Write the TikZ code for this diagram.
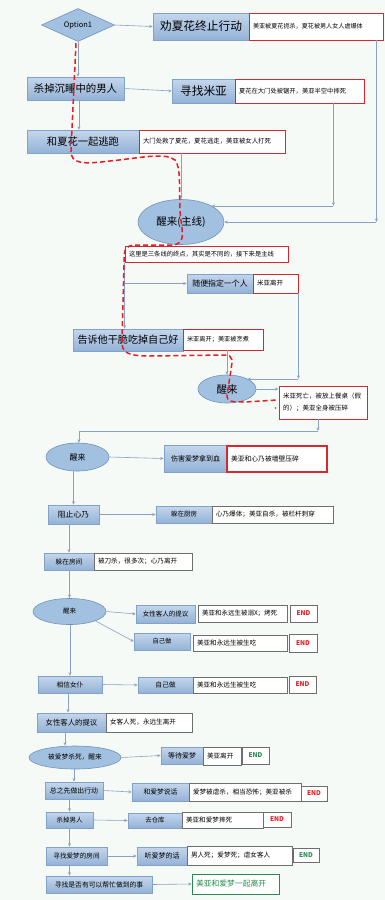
\documentclass[tikz,border=0pt]{standalone}
\usepackage{fontspec}
\setmainfont{Noto Sans CJK SC}
\usetikzlibrary{shapes.geometric,arrows.meta,calc}
\definecolor{bgc}{RGB}{246,250,246}
\definecolor{bxt}{RGB}{196,214,236}
\definecolor{bxb}{RGB}{148,178,214}
\definecolor{bxd}{RGB}{130,162,202}
\definecolor{elf}{RGB}{162,192,224}
\definecolor{eld}{RGB}{112,146,190}
\definecolor{ntg}{RGB}{110,110,110}
\definecolor{ntr}{RGB}{214,40,46}
\definecolor{cn}{RGB}{138,162,192}
\definecolor{rd}{RGB}{232,30,38}
\definecolor{gn}{RGB}{40,140,80}
\tikzset{
 bx/.style={draw=bxd, line width=0.6pt, top color=bxt, bottom color=bxb, inner sep=0pt, font=\fontsize{7}{8}\selectfont},
 nt/.style={draw=ntg, line width=0.6pt, fill=white, inner xsep=4pt, inner ysep=0pt, align=left, font=\fontsize{6.6}{7.6}\selectfont},
 ntr/.style={nt, draw=ntr, line width=0.9pt},
 el/.style={ellipse, draw=eld, line width=0.6pt, fill=elf, inner sep=0pt},
 conn/.style={draw=cn, line width=0.6pt, -{Stealth[length=3.5pt,width=3pt]}},
 endbox/.style={draw=ntg, line width=0.6pt, fill=white, inner sep=0pt, font=\fontsize{6.5}{7.5}\selectfont\bfseries},
 reddash/.style={draw=rd, line width=1.5pt, dash pattern=on 5pt off 3pt},
}
\begin{document}
\begin{tikzpicture}[x=1pt,y=-1pt]
\fill[bgc] (0,0) rectangle (385,900);
\useasboundingbox (0,0) rectangle (385,900);

% top part
\node[diamond, draw=eld, line width=0.6pt, fill=elf, aspect=2.2, minimum width=73pt, minimum height=33pt, inner sep=0pt, font=\fontsize{7.5}{8.5}\selectfont] (d1) at (78,25) {Option1};
\node[bx, minimum width=96pt, minimum height=27pt, font=\fontsize{11.7}{13}\selectfont] (b1) at (201,26.5) {劝夏花终止行动};
\node[ntr, text width=126pt, minimum height=27pt, font=\fontsize{6.1}{7}\selectfont] (n1) at (316,26.5) {美亚被夏花扼杀，夏花被男人女人虐爆体};

\node[bx, minimum width=97pt, minimum height=23pt, font=\fontsize{10.4}{12}\selectfont] (b2) at (75.5,88.5) {杀掉沉睡中的男人};
\node[bx, minimum width=63pt, minimum height=24pt, font=\fontsize{11.7}{13}\selectfont] (b3) at (203.5,91) {寻找米亚};
\node[ntr, text width=121pt, minimum height=24pt, font=\fontsize{6.3}{7}\selectfont] (n3) at (299.5,91) {夏花在大门处被锯开，美亚半空中摔死};

\node[bx, minimum width=112pt, minimum height=23pt, font=\fontsize{10.3}{12}\selectfont] (b4) at (83,141.5) {和夏花一起逃跑};
\node[ntr, text width=138pt, minimum height=23pt, font=\fontsize{6.4}{7}\selectfont] (n4) at (212,141.5) {大门处救了夏花，夏花逃走，美亚被女人打死};

\node[el, minimum width=86pt, minimum height=45pt, font=\fontsize{10.5}{12}\selectfont] (e1) at (181,222) {醒来(主线)};
\node[ntr, text width=155pt, minimum height=16pt, font=\fontsize{6.3}{7}\selectfont] (n5) at (206.5,254.5) {这里是三条线的终点，其实是不同的，接下来是主线};

\node[bx, minimum width=66pt, minimum height=19pt, font=\fontsize{7.9}{9}\selectfont] (b6) at (220,283.5) {随便指定一个人};
\node[ntr, text width=37pt, minimum height=19pt, font=\fontsize{6.5}{7.5}\selectfont] (n6) at (275.5,283.5) {米亚离开};

\node[bx, minimum width=110pt, minimum height=22pt, font=\fontsize{10.1}{12}\selectfont] (b7) at (128,340) {告诉他干脆吃掉自己好};
\node[ntr, text width=72pt, minimum height=21pt, font=\fontsize{6.2}{7}\selectfont] (n7) at (223,339.5) {米亚离开；美亚被烹煮};

\node[el, minimum width=58pt, minimum height=28pt, font=\fontsize{10.5}{12}\selectfont] (e2) at (227,389) {醒来};
\node[ntr, text width=80pt, minimum height=33pt, font=\fontsize{6.5}{12}\selectfont] (n8) at (323,402.5) {米亚死亡，被放上餐桌（假\\的）；美亚全身被压碎};

\node[el, minimum width=63pt, minimum height=28pt, font=\fontsize{8}{9}\selectfont] (e3) at (77.5,457) {醒来};
\node[bx, minimum width=63pt, minimum height=27pt, font=\fontsize{7}{8}\selectfont] (b9) at (195.5,458.5) {伤害爱梦拿到血};
\node[ntr, line width=1.2pt, text width=92pt, minimum height=26pt, font=\fontsize{6.8}{8}\selectfont] (n9) at (277,459) {美亚和心乃被墙壁压碎};

% lower part
\node[bx, minimum width=51pt, minimum height=19pt, font=\fontsize{7.8}{9}\selectfont] (b10) at (73.5,514.5) {阻止心乃};
\node[bx, minimum width=56pt, minimum height=17pt, font=\fontsize{6.5}{7.5}\selectfont] (b11) at (184,514.5) {躲在厨房};
\node[nt, text width=113pt, minimum height=17pt] (n11) at (272.5,514.5) {心乃爆体；美亚自杀，被栏杆刺穿};

\node[bx, minimum width=50pt, minimum height=17pt, font=\fontsize{6.7}{7.5}\selectfont] (b12) at (69,561.5) {躲在房间};
\node[nt, text width=90pt, minimum height=17pt] (n12) at (143,561.5) {被刀杀，很多次；心乃离开};

\node[el, minimum width=73pt, minimum height=26pt, font=\fontsize{6.5}{7.5}\selectfont] (e4) at (69.5,611.5) {醒来};
\node[bx, minimum width=59pt, minimum height=18pt, font=\fontsize{6.5}{7.5}\selectfont] (b13) at (165.5,614) {女性客人的提议};
\node[nt, text width=81pt, minimum height=17pt, font=\fontsize{6.5}{7.5}\selectfont] (n13) at (242.5,613.5) {美亚和永远生被溺X；烤死};
\node[endbox, text=rd, minimum width=27pt, minimum height=17pt] (x13) at (303.5,613.5) {END};

\node[bx, minimum width=56pt, minimum height=17pt, font=\fontsize{6.3}{7.5}\selectfont] (b14) at (162,641.5) {自己做};
\node[nt, text width=86pt, minimum height=16pt] (n14) at (240,643) {美亚和永远生被生吃};
\node[endbox, text=rd, minimum width=28pt, minimum height=18pt] (x14) at (303,643) {END};

\node[bx, minimum width=64pt, minimum height=17pt, font=\fontsize{6.7}{7.5}\selectfont] (b15) at (70,684.5) {相信女仆};
\node[bx, minimum width=55pt, minimum height=16pt, font=\fontsize{6.8}{7.5}\selectfont] (b16) at (165.5,685) {自己做};
\node[nt, text width=86pt, minimum height=16pt] (n16) at (240,685) {美亚和永远生被生吃};
\node[endbox, text=rd, minimum width=27pt, minimum height=17pt] (x16) at (302.5,684.5) {END};

\node[bx, minimum width=69pt, minimum height=19pt, font=\fontsize{7.4}{8.5}\selectfont] (b17) at (71.5,722.5) {女性客人的提议};
\node[nt, text width=78pt, minimum height=19pt] (n17) at (149,722.5) {女客人死，永远生离开};

\node[el, minimum width=92pt, minimum height=23pt, font=\fontsize{6.7}{7.5}\selectfont] (e5) at (75,757.5) {被爱梦杀死，醒来};
\node[bx, minimum width=42pt, minimum height=17pt, font=\fontsize{7}{8}\selectfont] (b18) at (182,755.5) {等待爱梦};
\node[nt, text width=30pt, minimum height=18pt] (n18) at (222,756) {美亚离开};
\node[endbox, text=gn, minimum width=27pt, minimum height=17pt] (x18) at (255.5,755.5) {END};

\node[bx, minimum width=58pt, minimum height=17pt, font=\fontsize{6.9}{8}\selectfont] (b19) at (74,790.5) {总之先做出行动};
\node[bx, minimum width=57pt, minimum height=18pt, font=\fontsize{6.8}{8}\selectfont] (b20) at (160.5,792) {和爱梦说话};
\node[nt, text width=104pt, minimum height=18pt] (n20) at (245,792) {爱梦被虐杀，相当恐怖；美亚被杀};
\node[endbox, text=rd, minimum width=26pt, minimum height=15pt] (x20) at (314,793.5) {END};

\node[bx, minimum width=47pt, minimum height=16pt, font=\fontsize{6.5}{7.5}\selectfont] (b21) at (69.5,820) {杀掉男人};
\node[bx, minimum width=54pt, minimum height=15pt, font=\fontsize{6.4}{7.5}\selectfont] (b22) at (155,820.5) {去仓库};
\node[nt, text width=73pt, minimum height=16pt] (n22) at (222.5,820) {美亚和爱梦摔死};
\node[endbox, text=rd, minimum width=28pt, minimum height=15pt] (x22) at (277,819.5) {END};

\node[bx, minimum width=61pt, minimum height=18pt, font=\fontsize{6.6}{7.5}\selectfont] (b23) at (76.5,856) {寻找爱梦的房间};
\node[bx, minimum width=50pt, minimum height=18pt, font=\fontsize{7}{8}\selectfont] (b24) at (162,856) {听爱梦的话};
\node[nt, text width=97pt, minimum height=19pt] (n24) at (239.5,855.5) {男人死；爱梦死；虐女客人};
\node[endbox, text=gn, minimum width=26pt, minimum height=14pt] (x24) at (306,855) {END};

\node[bx, minimum width=106pt, minimum height=17pt, font=\fontsize{6.8}{8}\selectfont] (b25) at (99,884.5) {寻找是否有可以帮忙做到的事};
\node[nt, draw=gn, text=gn, text width=79pt, minimum height=20pt, font=\fontsize{7.8}{9}\selectfont] (g25) at (235.5,884) {美亚和爱梦一起离开};

% connectors
\draw[conn] (d1.east) -- (b1.west);
\draw[conn] (d1.south) -- (d1.south |- b2.north);
\draw[conn] (b2.east) -- (b3.west);
\draw[conn] ($(b2.south)+(3.5,0)$) -- ($(b4.north)+(-4,0)$);
\coordinate (c1) at ($(n1.south east)+(-7,0)$);
\coordinate (c1b) at (c1 |- e1.east);
\draw[conn] (c1) -- (c1b);
\draw[conn] (c1b) -- (e1.east);
\coordinate (c2) at ($(n3.south east)+(-31,0)$);
\coordinate (c2b) at (c2 |- e1.north east);
\draw[conn] (c2) -- (c2b);
\draw[conn] (c2b) -- (e1.north east);
\draw[conn] (n4.south -| e1.north) -- (e1.north);
\draw[conn] (n5.south west) -- (n5.south west |- b7.north);
\draw[conn] (n5.south west |- b6.west) -- (b6.west);
\coordinate (c3b) at (n6.south east |- e2.north east);
\draw[conn] (n6.south east) -- (c3b);
\draw[conn] (c3b) -- (e2.north east);
\draw[conn] (n7.south -| e2.north) -- (e2.north);
\draw[conn] (e2.east) -- (n8.west |- e2.east);
\coordinate (c4) at ($(n8.south)+(-5,0)$);
\coordinate (k431) at (79,431);
\coordinate (c4b) at (c4 |- k431);
\draw[conn] (c4) -- (c4b);
\draw[conn] (c4b) -- (k431) -- (k431 |- e3.north);
\draw[conn] (e3.east) -- (b9.west);
\draw[conn] (b10.north |- e3.south) -- (b10.north);
\draw[conn] (b10.east) -- (b11.west);
\draw[conn] (b12.north |- b10.south) -- (b12.north);
\draw[conn] (e4.north |- b12.south) -- (e4.north);
\draw[conn] (e4.east) -- (b13.west);
\draw[conn] (e4.south east) -- (b14.west);
\draw[conn] (b15.north |- e4.south) -- (b15.north);
\draw[conn] (b15.east) -- (b16.west);
\draw[conn] ($(b15.south)+(-2,0)$) -- ($(b17.north)+(-3.5,0)$);
\coordinate (t17) at ($(b17.south)+(-6.5,0)$);
\draw[conn] (t17) -- (t17 |- e5.north);
\draw[conn] (e5.east) -- (b18.west);
\draw[conn] (b19.north |- e5.south) -- (b19.north);
\draw[conn] (b19.east) -- (b20.west);
\draw[conn] (b21.north |- b19.south) -- (b21.north);
\draw[conn] (b21.east) -- (b22.west);
\draw[conn] (b21.south) -- (b21.south |- b23.north);
\draw[conn] (b21.south |- b23.south) -- (b21.south |- b25.north);
\draw[conn] (b23.east) -- (b24.west);
\draw[conn] (b25.east) -- (g25.west);

% red dashed route
\draw[reddash] (76,43) -- (71,150) .. controls (70,165) and (85,164) .. (110,161)
  .. controls (140,158) and (165,152) .. (175,160)
  .. controls (181,168) and (179,185) .. (180,210)
  .. controls (181,230) and (188,244) .. (172,245)
  -- (135,245) .. controls (124,246) and (124,250) .. (124,265)
  -- (122,340) .. controls (121,353) and (128,356) .. (150,356)
  -- (225,355) .. controls (234,355) and (232,362) .. (231,370)
  -- (227,395) .. controls (227,402) and (232,402) .. (245,402)
  -- (277,400);
\fill[rd] (275.5,408) circle (0.8);
\end{tikzpicture}
\end{document}
